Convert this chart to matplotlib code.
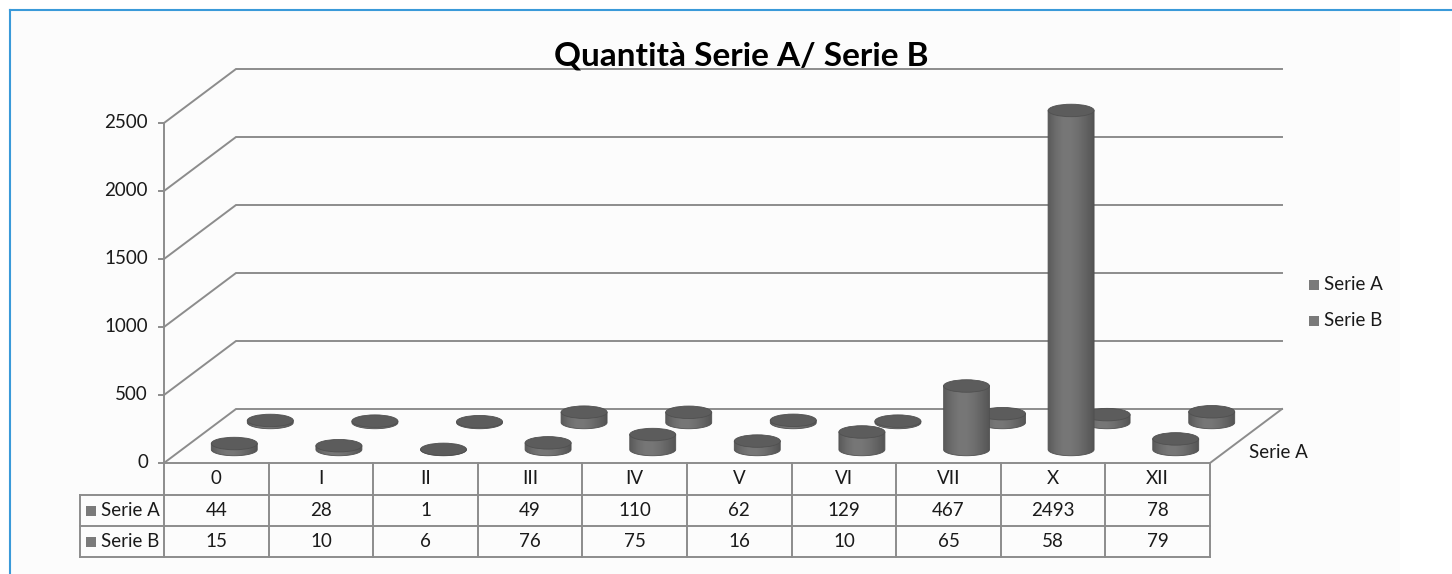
import numpy as np
import matplotlib
matplotlib.use('Agg')
import matplotlib.pyplot as plt
from matplotlib.patches import Ellipse, Polygon, Rectangle
from matplotlib.lines import Line2D
from matplotlib.colors import LinearSegmentedColormap
import matplotlib.transforms as mtransforms

# ---------------- data ----------------
categories = ['0', 'I', 'II', 'III', 'IV', 'V', 'VI', 'VII', 'X', 'XII']
serie_a = [44, 28, 1, 49, 110, 62, 129, 467, 2493, 78]
serie_b = [15, 10, 6, 76, 75, 16, 10, 65, 58, 79]
series_names = ['Serie A', 'Serie B']
y_ticks = [0, 500, 1000, 1500, 2000, 2500]
title = 'Quantità Serie A/ Serie B'
depth_label = 'Serie A'

# ---------------- layout ----------------
W, H = 1452, 574
plt.rcParams['font.family'] = ['Lato', 'DejaVu Sans']
FS = 13.5
fig = plt.figure(figsize=(W / 100, H / 100), dpi=100)
fig.patch.set_facecolor('white')
pix = mtransforms.Affine2D().scale(1, -1).translate(0, H)

fig.add_artist(Rectangle((11, 11), 1389, 570, transform=pix,
                         facecolor='#fcfcfc', edgecolor='none', zorder=0))
fig.add_artist(Line2D([10, 10], [10, 574], transform=pix, color='#3a9ad9', lw=1.5))
fig.add_artist(Line2D([10, W], [10, 10], transform=pix, color='#3a9ad9', lw=1.5))

X0, X1, Y0, Y1 = 164, 1210, 463, 123   # plot front plane in pixels
ax = fig.add_axes([X0 / W, (H - Y0) / H, (X1 - X0) / W, (Y0 - Y1) / H])
ax.set_facecolor('none')
ax.axis('off')
n = len(categories)
xmin, xmax = -0.5, n - 0.5
vmax = y_ticks[-1]
ax.set_xlim(xmin, xmax)
ax.set_ylim(0, vmax)

PXX = (X1 - X0) / n
PXY = (Y0 - Y1) / vmax
DX = 72 / PXX
DY = 54 / PXY

gridc = '#8c8c8c'
glw = 1.4

# walls / gridlines
for v in y_ticks:
    ax.plot([xmin, xmin + DX, xmax + DX], [v, v + DY, v + DY], color=gridc,
            lw=glw, clip_on=False, zorder=1, solid_joinstyle='miter')
    ax.plot([xmin - 5 / PXX, xmin], [v, v], color=gridc, lw=glw, clip_on=False, zorder=1)
    ax.text(xmin - 16 / PXX, v, str(v), ha='right', va='center', fontsize=FS, color='#1a1a1a')
ax.plot([xmax, xmax + DX], [0, DY], color=gridc, lw=glw, clip_on=False, zorder=1)
ax.plot([xmin, xmax], [0, 0], color=gridc, lw=glw, clip_on=False, zorder=1)
ax.plot([xmin, xmin], [0, vmax], color=gridc, lw=glw, clip_on=False, zorder=1)

# cylinders
cmap = LinearSegmentedColormap.from_list(
    'cyl', ['#5a5a5a', '#6c6c6c', '#777777', '#767676', '#6e6e6e', '#626262', '#545454'])
grad = np.linspace(0, 1, 256).reshape(1, -1)
R = 23 / PXX
EH = 12.5 / PXY


def cylinder(xc, base, h, z):
    t = np.linspace(np.pi, 2 * np.pi, 60)
    pts = [(xc + R * np.cos(a), base + EH / 2 * np.sin(a)) for a in t]
    pts += [(xc + R, base + h), (xc - R, base + h)]
    poly = Polygon(pts, closed=True, transform=ax.transData, facecolor='none',
                   edgecolor='#505050', lw=0.6, zorder=z + 0.1, clip_on=False)
    ax.add_patch(poly)
    im = ax.imshow(grad, extent=[xc - R, xc + R, base - EH / 2, base + h],
                   aspect='auto', cmap=cmap, zorder=z, interpolation='bilinear')
    im.set_clip_box(fig.bbox)
    im.set_clip_path(poly)
    ax.add_patch(Ellipse((xc, base + h), 2 * R, EH, facecolor='#5c5c5c',
                         edgecolor='#505050', lw=0.6, zorder=z + 0.2, clip_on=False))


for i in range(n):
    cylinder(i + 0.75 * DX, 0.75 * DY, serie_b[i], 3)
for i in range(n):
    cylinder(i + 0.25 * DX, 0.25 * DY, serie_a[i], 5)

ax.set_xlim(xmin, xmax)
ax.set_ylim(0, vmax)

# ---------------- data table ----------------
bl = mtransforms.blended_transform_factory(ax.transData, pix)
rows_y = [463, 495, 526, 557]
TL = 80
tc = '#8c8c8c'
for y in rows_y[1:]:
    fig.add_artist(Line2D([TL, X1], [y, y], transform=pix, color=tc, lw=glw))
fig.add_artist(Line2D([TL, TL], [rows_y[1], rows_y[3]], transform=pix, color=tc, lw=glw))
for k in range(n + 1):
    ax.plot([xmin + k, xmin + k], [rows_y[0], rows_y[3]], transform=bl, color=tc,
            lw=glw, clip_on=False)
for i, c in enumerate(categories):
    ax.text(i, (rows_y[0] + rows_y[1]) / 2, c, transform=bl, ha='center', va='center',
            fontsize=FS, color='#1a1a1a')
    ax.text(i, (rows_y[1] + rows_y[2]) / 2, str(serie_a[i]), transform=bl, ha='center',
            va='center', fontsize=FS, color='#1a1a1a')
    ax.text(i, (rows_y[2] + rows_y[3]) / 2, str(serie_b[i]), transform=bl, ha='center',
            va='center', fontsize=FS, color='#1a1a1a')
for j, name in enumerate(series_names):
    yc = (rows_y[j + 1] + rows_y[j + 2]) / 2
    fig.add_artist(Rectangle((86, yc - 5), 10, 10, transform=pix, facecolor='#7a7a7a',
                             edgecolor='none'))
    fig.text(101 / W, 1 - yc / H, name, ha='left', va='center', fontsize=FS, color='#1a1a1a')

# ---------------- legend ----------------
for j, name in enumerate(series_names):
    yc = 285 + 36 * j
    fig.add_artist(Rectangle((1309, yc - 5), 10, 10, transform=pix, facecolor='#7a7a7a',
                             edgecolor='none'))
    fig.text(1324 / W, 1 - yc / H, name, ha='left', va='center', fontsize=FS, color='#1a1a1a')

# depth axis label
fig.text(1249 / W, 1 - 453 / H, depth_label, ha='left', va='center', fontsize=FS, color='#1a1a1a')

# title
fig.text(741 / W, 1 - 56 / H, title, ha='center', va='center', fontsize=24,
         fontweight='bold', color='#000000')

fig.savefig('out.png', dpi=100)
